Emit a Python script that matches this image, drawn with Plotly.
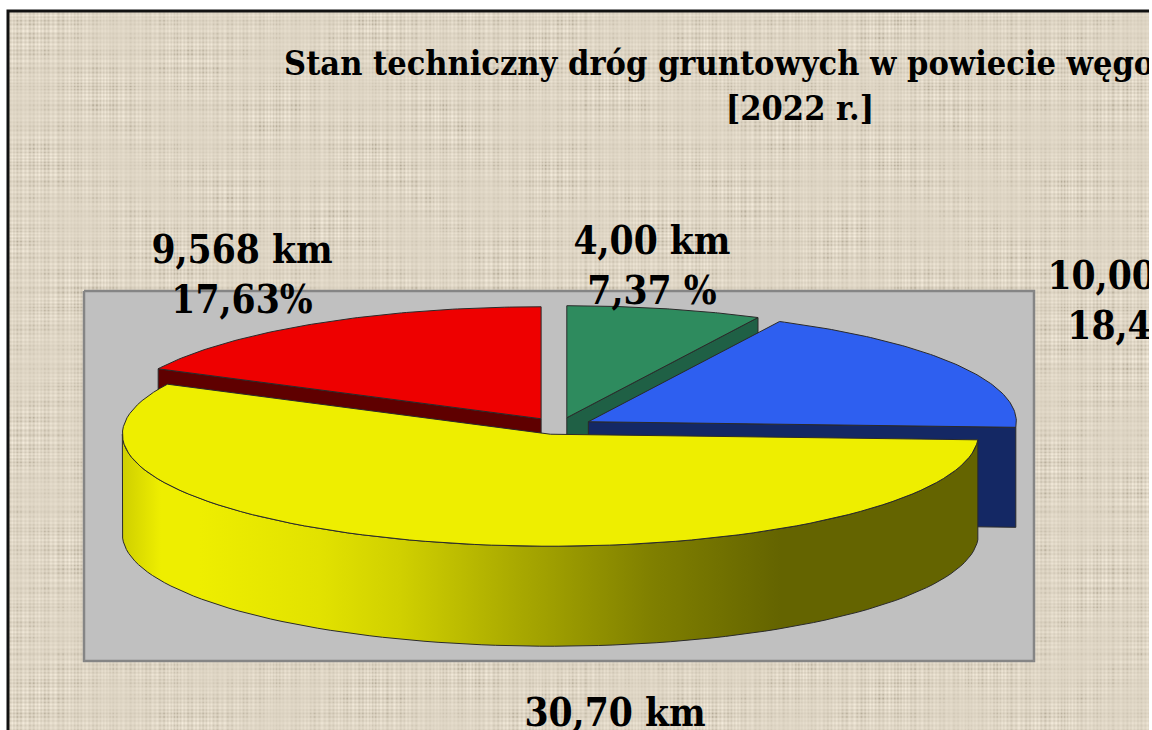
import base64
import math
import struct
import zlib

import numpy as np
import plotly.graph_objects as go

# --- data ---
lengths_km = [4.00, 10.00, 30.70, 9.568]
label_km = ["4,00 km", "10,00 km", "30,70 km", "9,568 km"]
label_pct = ["7,37 %", "18,43%", "56,57%", "17,63%"]
title_lines = ["Stan techniczny dróg gruntowych w powiecie węgorzewskim", "[2022 r.]"]

top_colors = ["#2e8b5e", "#2e5ff0", "#eeee00", "#ee0000"]
side_colors = ["#1f6045", "#142864", "#646400", "#5f0000"]
rim_stops = [(0.0, "#cfcf00"), (0.045, "#eeee00"), (0.09, "#eeee00"), (0.23, "#e2e200"),
             (0.325, "#d0d000"), (0.465, "#a8a800"), (0.617, "#808000"),
             (0.77, "#646400"), (1.0, "#646400")]

# --- projection of the exploded pie ---
CX, CY = 559.0, 426.0
RX, RY = 428.0, 112.0
DEPTH = 100.0
EXPLODE_X, EXPLODE_Y = 34.0, 8.5
FONT = "DejaVu Serif Condensed"

total = sum(lengths_km)
angles = []
acc = 0.0
for v in lengths_km:
    angles.append((acc / total * 2 * math.pi, (acc + v) / total * 2 * math.pi))
    acc += v


def centre(a0, a1):
    mid = (a0 + a1) / 2
    return CX + EXPLODE_X * math.sin(mid), CY - EXPLODE_Y * math.cos(mid)


def arc(cx, cy, a0, a1, dz=0.0, n=90):
    xs, ys = [], []
    for i in range(n + 1):
        a = a0 + (a1 - a0) * i / n
        xs.append(cx + RX * math.sin(a))
        ys.append(cy - RY * math.cos(a) + dz)
    return xs, ys


def linen_png(w, h):
    """Deterministic woven linen background as a PNG data URI."""
    x = np.arange(w)[None, :]
    y = np.arange(h)[:, None]
    colv = np.sin(x * 1.63 + 2.6 * np.sin(x * 0.071) + 1.4 * np.sin(x * 0.19)) \
        + 0.6 * np.sin(x * 0.41 + 2.0 * np.sin(x * 0.033))
    rowv = np.sin(y * 1.57 + 2.4 * np.sin(y * 0.083) + 1.3 * np.sin(y * 0.17)) \
        + 0.6 * np.sin(y * 0.37 + 2.2 * np.sin(y * 0.029))
    patch = 0.5 + 0.5 * np.sin(x * 0.037 + 1.3 * np.sin(y * 0.019)) * np.sin(y * 0.047 + 1.1 * np.sin(x * 0.023))
    patch2 = 0.5 + 0.5 * np.sin(x * 0.11 + y * 0.013) * np.sin(y * 0.13 - x * 0.017)
    weave = (colv + rowv) * (0.3 + 0.7 * patch)
    dark = np.minimum(colv, 0) * np.minimum(rowv, 0) * patch2 * (0.4 + 0.6 * patch)
    v = 8.0 * weave - 10.0 * dark
    base = np.array([222.0, 213.0, 196.0])
    rgb = np.stack([base[0] + v, base[1] + 1.02 * v, base[2] + 1.08 * v], axis=-1)
    rgb = np.clip(rgb, 0, 255).astype(np.uint8)
    raw = b"".join(b"\x00" + rgb[r].tobytes() for r in range(h))

    def chunk(tag, data):
        return struct.pack(">I", len(data)) + tag + data + struct.pack(">I", zlib.crc32(tag + data))

    png = b"\x89PNG\r\n\x1a\n" + chunk(b"IHDR", struct.pack(">IIBBBBB", w, h, 8, 2, 0, 0, 0)) \
        + chunk(b"IDAT", zlib.compress(raw, 9)) + chunk(b"IEND", b"")
    return "data:image/png;base64," + base64.b64encode(png).decode()


fig = go.Figure()


def poly(xs, ys, color, line="#2a2a2a", width=1.0):
    fig.add_trace(go.Scatter(x=xs + xs[:1], y=ys + ys[:1], mode="lines", fill="toself",
                             fillcolor=color, line=dict(color=line, width=width),
                             hoverinfo="skip", showlegend=False))


def text(x, y, s, size):
    fig.add_trace(go.Scatter(x=[x], y=[y], mode="text", text=[f"<b>{s}</b>"],
                             textposition="middle center", cliponaxis=True,
                             textfont=dict(family=FONT, size=size, color="#000000"),
                             hoverinfo="skip", showlegend=False))


W, H = 1152, 730
L, T, R = 8, 11, 1149
fig.add_layout_image(source=linen_png(R - L, H - T), xref="x", yref="y", x=L, y=T,
                     sizex=R - L, sizey=H - T, sizing="stretch", xanchor="left", yanchor="top",
                     layer="below")
# frame
fig.add_trace(go.Scatter(x=[L, L, R], y=[H, T, T], mode="lines", line=dict(color="#111111", width=3),
                         hoverinfo="skip", showlegend=False))

# grey plot area
poly([84, 1034, 1034, 84], [291, 291, 661, 661], "#c0c0c0", line="#858585", width=2.5)

# slices back to front: red, green, blue, yellow
for idx in [3, 0, 1, 2]:
    a0, a1 = angles[idx]
    cx, cy = centre(a0, a1)
    top, side = top_colors[idx], side_colors[idx]
    if idx == 2:
        # outer rim with horizontal shading
        ax, ay = arc(cx, cy, a0, 1.5 * math.pi)
        bx, by = arc(cx, cy, a0, 1.5 * math.pi, DEPTH)
        fig.add_trace(go.Scatter(x=ax + bx[::-1] + ax[:1], y=ay + by[::-1] + ay[:1], mode="lines",
                                 fill="toself", line=dict(color="#2a2a2a", width=1),
                                 fillgradient=dict(type="horizontal",
                                                   colorscale=[list(s) for s in rim_stops]),
                                 hoverinfo="skip", showlegend=False))
    else:
        # cut face nearest to the viewer
        edge = a0 if idx == 3 else a1
        ex = cx + RX * math.sin(edge)
        ey = cy - RY * math.cos(edge)
        poly([cx, ex, ex, cx], [cy, ey, ey + DEPTH, cy + DEPTH], side)
    xs, ys = arc(cx, cy, a0, a1)
    poly([cx] + xs, [cy] + ys, top)

# labels (km line, percent line)
label_x = [652, 1138, 615, 242]
km_y = [244, 279, 716, 253]
line_gap = 50
for i in range(4):
    text(label_x[i], km_y[i], label_km[i], 38.5)
    text(label_x[i], km_y[i] + line_gap, label_pct[i], 38.5)
text(800, 66, title_lines[0], 34)
text(800, 111, title_lines[1], 34)

fig.update_layout(width=W, height=H, autosize=False, margin=dict(l=0, r=3, t=0, b=0),
                  paper_bgcolor="#ffffff", plot_bgcolor="rgba(0,0,0,0)")
fig.update_xaxes(range=[0, 1149], visible=False, fixedrange=True)
fig.update_yaxes(range=[H, 0], visible=False, fixedrange=True)
fig.write_html("out.html", config=dict(displayModeBar=False),
               post_script="document.body.style.margin='0';")
